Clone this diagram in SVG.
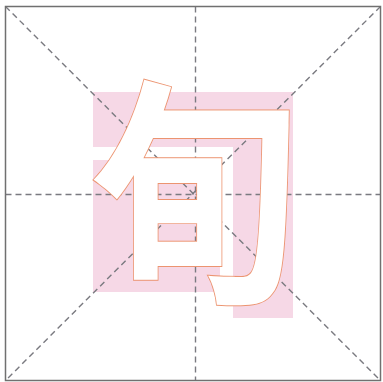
<svg xmlns="http://www.w3.org/2000/svg" width="383" height="382" viewBox="0 0 383 382">
<style>
.guide{stroke:#7a7a80;stroke-width:1.4;stroke-dasharray:6 4;fill:none}
.hl{fill:#f6d8e6}
.ch{font-family:"Noto Sans CJK SC","Noto Sans CJK JP",sans-serif;font-weight:700;fill:#ffffff;stroke:#ec9470;stroke-width:2;paint-order:stroke}
</style>
<rect width="383" height="382" fill="#ffffff"/>
<g id="highlights">
<rect class="hl" x="93" y="92" width="200" height="55"/>
<rect class="hl" x="233" y="147" width="60" height="171"/>
<rect class="hl" x="93" y="160" width="127" height="132"/>
</g>
<g id="guides">
<line class="guide" x1="5.5" y1="6.5" x2="380.5" y2="380.5"/>
<line class="guide" x1="380.5" y1="6.5" x2="5.5" y2="380.5"/>
<line class="guide" x1="195.5" y1="6.5" x2="195.5" y2="380.5"/>
<line class="guide" x1="5.5" y1="194.5" x2="380.5" y2="194.5"/>
</g>
<rect id="border" x="5.5" y="6.5" width="375" height="374" fill="none" stroke="#707070" stroke-width="1.5"/>
<g id="character">
<text class="ch" x="0" y="0" font-size="250" text-anchor="middle" transform="translate(194,283) scale(0.84,0.955)">旬</text>
</g>
</svg>
